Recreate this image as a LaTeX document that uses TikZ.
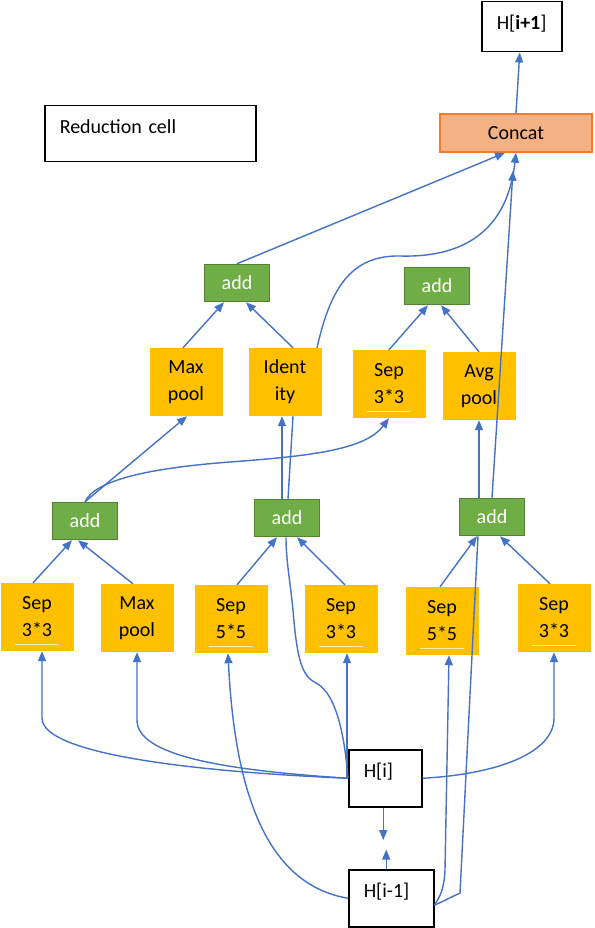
\documentclass[tikz,border=0pt]{standalone}
\usepackage{fontspec}
\setmainfont{Carlito}
\usetikzlibrary{arrows.meta}
\definecolor{linkblue}{RGB}{68,114,196}
\definecolor{opyellow}{RGB}{255,192,0}
\definecolor{addgreen}{RGB}{112,173,71}
\definecolor{addedge}{RGB}{84,130,53}
\definecolor{catfill}{RGB}{244,177,131}
\definecolor{catedge}{RGB}{237,125,49}
\definecolor{ulinecol}{RGB}{255,236,170}

\begin{document}
\begin{tikzpicture}[x=1pt,y=-1pt]
    \tikzstyle{every node}=[font=\fontsize{20}{27}\selectfont, inner sep=0pt]
    \tikzstyle{op}=[rectangle, fill=opyellow, minimum width=73pt, minimum height=68pt, align=center]
    \tikzstyle{addop}=[rectangle, fill=addgreen, draw=addedge, line width=1.5pt, text=white, minimum width=65pt, minimum height=37pt]
    \tikzstyle{catop}=[rectangle, fill=catfill, draw=catedge, line width=1.5pt, minimum width=152pt, minimum height=38pt]
    \tikzstyle{statebox}=[rectangle, draw, line width=1.5pt, anchor=north west, align=left, inner xsep=15pt, inner ysep=14pt, text height=14pt]
    \tikzstyle{link}=[draw=linkblue, line width=1.4pt, -{Triangle[length=10pt,width=8pt]}]
    \tikzstyle{plain}=[draw=linkblue, line width=1.4pt]
    \tikzstyle{uline}=[draw=ulinecol, line width=1pt]

    \useasboundingbox (0,0) rectangle (594,928);

    \node[statebox, text width=50pt, text depth=8pt] (hnext) at (481,1) {H[\textbf{i+1}]};
    \node[statebox, text width=181pt, text depth=14pt] (redcell) at (44,105) {Reduction cell};
    \node[catop] (concat) at (516,133) {Concat};

    \node[addop] (addA) at (237,283) {add};
    \node[addop] (addB) at (437,286) {add};
    \node[op] (maxU) at (186,382) {Max\\pool};
    \node[op] (ident) at (285,382) {Ident\\ity};
    \node[op] (sepU) at (389,384) {Sep\\3*3};
    \node[op] (avgU) at (479,386) {Avg\\pool};

    \node[addop] (addC) at (85,521) {add};
    \node[addop] (addD) at (287,518) {add};
    \node[addop] (addE) at (492,517) {add};

    \node[op] (sepA) at (37,617) {Sep\\3*3};
    \node[op] (maxB) at (137,618) {Max\\pool};
    \node[op] (sepC) at (231,619) {Sep\\5*5};
    \node[op] (sepD) at (341,619) {Sep\\3*3};
    \node[op] (sepE) at (442,621) {Sep\\5*5};
    \node[op] (sepF) at (554,618) {Sep\\3*3};

    \node[statebox, text width=43pt, text depth=15pt] (hcur) at (348,749) {H[i]};
    \node[statebox, text width=55pt, text depth=15pt] (hprev) at (348,869) {H[i-1]};

    \draw[uline] ([xshift=-22pt,yshift=-27pt]sepA.center) -- ++(44,0);
    \draw[uline] ([xshift=-22pt,yshift=-27pt]sepC.center) -- ++(44,0);
    \draw[uline] ([xshift=-22pt,yshift=-27pt]sepD.center) -- ++(44,0);
    \draw[uline] ([xshift=-22pt,yshift=-27pt]sepE.center) -- ++(44,0);
    \draw[uline] ([xshift=-22pt,yshift=-27pt]sepF.center) -- ++(44,0);
    \draw[uline] ([xshift=-22pt,yshift=-27pt]sepU.center) -- ++(44,0);

    \draw[link] (concat.north) -- ([xshift=-2pt]hnext.south);
    \draw[link] (addA.north) -- ([xshift=-11pt]concat.south);
    \draw[link] ([xshift=32pt]ident.north) .. controls (330,290) and (350,255) .. (400,256) .. controls (470,258) and (508,225) .. (concat.south);

    \draw[link] ([xshift=-3pt]maxU.north) -- ([xshift=-13pt]addA.south);
    \draw[link] ([xshift=8pt]ident.north) -- ([xshift=9pt]addA.south);
    \draw[link] (sepU.north) -- ([xshift=-9pt]addB.south);
    \draw[link] (avgU.north) -- ([xshift=4pt]addB.south);

    \draw[link] (addC.north) -- ([xshift=1pt]maxU.south);
    \draw[link] (addC.north) .. controls (95,480) and (150,468) .. (230,462) .. controls (310,456) and (365,450) .. (sepU.south);
    \draw[link] ([xshift=-5pt]addD.north) -- ([xshift=-3pt]ident.south);
    \draw[plain] ([xshift=1pt]addD.north) -- ([xshift=8pt]ident.south);
    \draw[link] ([xshift=-13pt]addE.north) -- (avgU.south);
    \draw[link] (addE.north) -- ([xshift=-3pt,yshift=-18pt]concat.south);

    \draw[link] ([xshift=-4pt]sepA.north) -- ([xshift=-13pt]addC.south);
    \draw[link] ([xshift=-4pt]maxB.north) -- ([xshift=-7pt]addC.south);
    \draw[link] ([xshift=6pt]sepC.north) -- ([xshift=-10pt]addD.south);
    \draw[link] ([xshift=4pt]sepD.north) -- ([xshift=10pt]addD.south);
    \draw[link] ([xshift=-2pt]sepE.north) -- ([xshift=-15pt]addE.south);
    \draw[link] ([xshift=-4pt]sepF.north) -- ([xshift=8pt]addE.south);

    \draw[link] (hcur.west) .. controls (200,772) and (42,755) .. (42,718) -- ([xshift=5pt]sepA.south);
    \draw[link] (hcur.west) .. controls (220,770) and (137,755) .. (137,720) -- (maxB.south);
    \draw[link] ([xshift=-1pt]hcur.west) -- ([xshift=6pt]sepD.south);
    \draw[plain] (hcur.west) .. controls (343,715) and (330,690) .. (316,683) .. controls (302,676) and (297,660) .. (293,610) .. controls (290,580) and (286,560) .. ([xshift=-1pt]addD.south);
    \draw[link] (hcur.east) .. controls (500,774) and (554,752) .. (554,718) -- (sepF.south);
    \draw[link] ([xshift=-2pt]hcur.south) -- ([xshift=-8pt,yshift=29pt]hprev.north);

    \draw[link] ([xshift=-5pt]hprev.north) -- ([xshift=1pt,yshift=-42pt]hcur.south);
    \draw[link] (hprev.west) .. controls (270,885) and (235,800) .. ([xshift=-3pt]sepC.south);
    \draw[link] ([yshift=-7pt]hprev.east) .. controls (440,896) and (444,890) .. (445,870) -- ([xshift=7pt]sepE.south);
    \draw[plain] ([yshift=-7pt]hprev.east) -- (460,893) -- ([xshift=-14pt]addE.south);
\end{tikzpicture}
\end{document}
